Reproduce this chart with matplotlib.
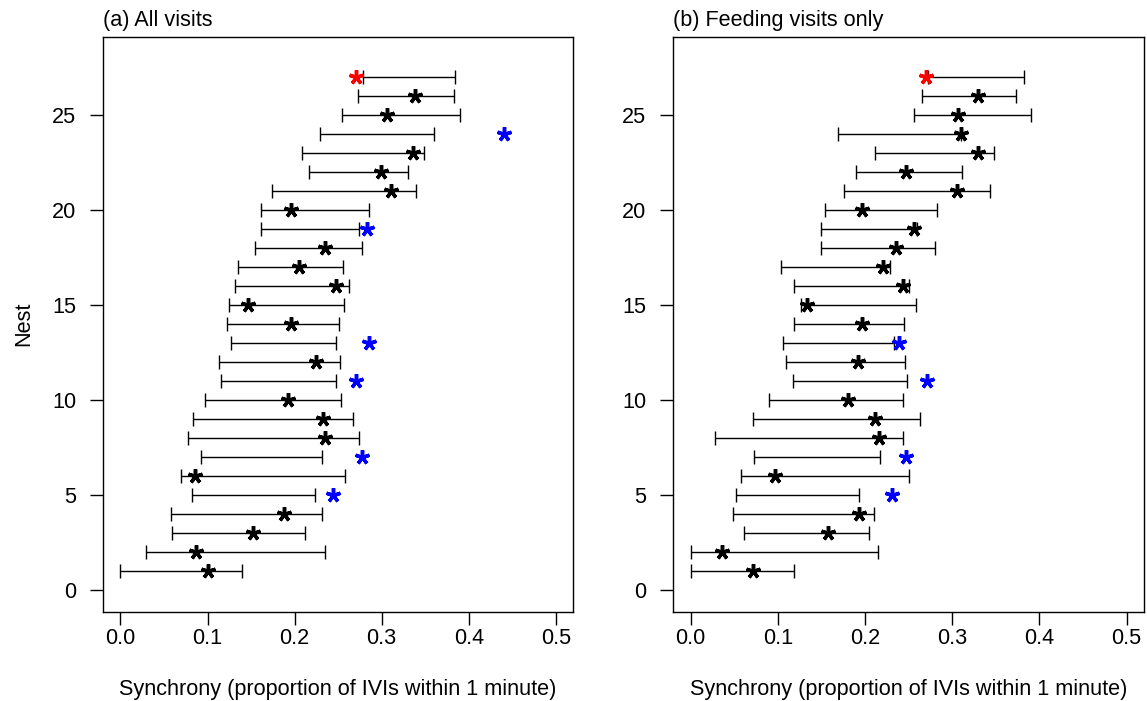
import matplotlib
matplotlib.use("Agg")
import matplotlib.pyplot as plt
import numpy as np

plt.rcParams["font.family"] = ["Liberation Sans", "DejaVu Sans"]

nests = np.arange(1, 28)

# (a) all visits
lo_a = [0.000, 0.029, 0.059, 0.058, 0.082, 0.069, 0.092, 0.078, 0.083, 0.097,
        0.116, 0.113, 0.127, 0.122, 0.125, 0.131, 0.135, 0.154, 0.161, 0.161,
        0.174, 0.217, 0.208, 0.229, 0.255, 0.273, 0.278]
hi_a = [0.140, 0.235, 0.212, 0.231, 0.224, 0.258, 0.231, 0.274, 0.267, 0.253,
        0.248, 0.252, 0.248, 0.251, 0.257, 0.262, 0.256, 0.277, 0.274, 0.285,
        0.339, 0.330, 0.349, 0.360, 0.390, 0.383, 0.384]
obs_a = [0.100, 0.087, 0.152, 0.188, 0.244, 0.086, 0.277, 0.235, 0.233, 0.192,
         0.271, 0.225, 0.286, 0.196, 0.147, 0.248, 0.205, 0.235, 0.283, 0.196,
         0.311, 0.299, 0.336, 0.441, 0.306, 0.338, 0.270]
col_a = ["k", "k", "k", "k", "b", "k", "b", "k", "k", "k",
         "b", "k", "b", "k", "k", "k", "k", "k", "b", "k",
         "k", "k", "k", "b", "k", "k", "r"]

# (b) feeding visits only
lo_b = [0.000, 0.000, 0.061, 0.049, 0.052, 0.058, 0.073, 0.028, 0.071, 0.090,
        0.117, 0.109, 0.106, 0.119, 0.126, 0.118, 0.103, 0.150, 0.149, 0.154,
        0.176, 0.190, 0.211, 0.169, 0.256, 0.265, 0.272]
hi_b = [0.119, 0.215, 0.205, 0.210, 0.193, 0.250, 0.217, 0.243, 0.263, 0.244,
        0.248, 0.246, 0.233, 0.245, 0.259, 0.250, 0.229, 0.280, 0.260, 0.283,
        0.343, 0.311, 0.348, 0.310, 0.390, 0.373, 0.382]
obs_b = [0.072, 0.036, 0.157, 0.193, 0.231, 0.097, 0.247, 0.216, 0.211, 0.180,
         0.271, 0.192, 0.239, 0.196, 0.133, 0.243, 0.221, 0.236, 0.256, 0.196,
         0.305, 0.247, 0.329, 0.310, 0.307, 0.330, 0.270]
col_b = ["k", "k", "k", "k", "b", "k", "b", "k", "k", "k",
         "b", "k", "b", "k", "k", "k", "k", "k", "k", "k",
         "k", "k", "k", "k", "k", "k", "r"]

colour_map = {"k": "black", "b": "#0000FF", "r": "#FF0000"}
fs = 15.6

fig = plt.figure(figsize=(11.47, 7.01), dpi=100)
ax_a = fig.add_axes([0.0898, 0.1274, 0.410, 0.8203])
ax_b = fig.add_axes([0.587, 0.1274, 0.4104, 0.8203])

panels = [
    (ax_a, lo_a, hi_a, obs_a, col_a, "(a) All visits"),
    (ax_b, lo_b, hi_b, obs_b, col_b, "(b) Feeding visits only"),
]

for ax, lo, hi, obs, col, title in panels:
    lo = np.array(lo)
    hi = np.array(hi)
    mid = (lo + hi) / 2
    ax.errorbar(mid, nests, xerr=(hi - lo) / 2, fmt="none", ecolor="black",
                elinewidth=1.0, capsize=4.8, capthick=1.0, zorder=2)
    for x, y, c in zip(obs, nests, col):
        ax.plot(x, y, marker=(5, 2, 0), ms=10.5, mew=2.5,
                color=colour_map[c], ls="none", zorder=3)
    ax.set_xlim(-0.02, 0.52)
    ax.set_ylim(-1.12, 29.12)
    ax.set_xticks([0.0, 0.1, 0.2, 0.3, 0.4, 0.5])
    ax.set_xticklabels(["0.0", "0.1", "0.2", "0.3", "0.4", "0.5"])
    ax.set_yticks([0, 5, 10, 15, 20, 25])
    ax.tick_params(axis="both", labelsize=fs, length=9.4, width=1.0,
                   color="black")
    ax.tick_params(axis="x", pad=2)
    ax.tick_params(axis="y", pad=10)
    for sp in ax.spines.values():
        sp.set_linewidth(1.0)
        sp.set_color("black")
    ax.set_xlabel("Synchrony (proportion of IVIs within 1 minute)",
                  fontsize=fs, labelpad=22)
    ax.text(0.0, 1.0 + 10.7 / 575, title, transform=ax.transAxes,
            ha="left", va="baseline", fontsize=fs)

ax_a.set_ylabel("Nest", fontsize=fs, labelpad=12.5)

fig.savefig("out.png", dpi=100)
